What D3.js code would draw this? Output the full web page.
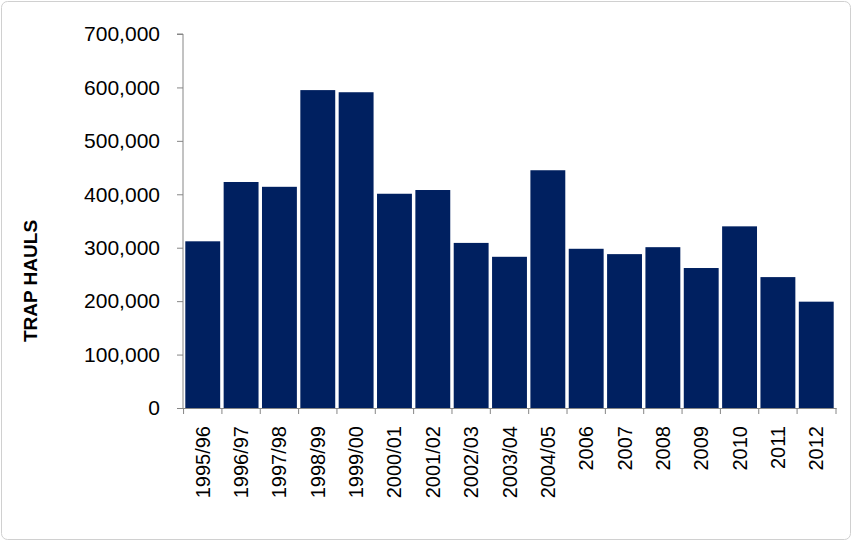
<!DOCTYPE html>
<html><head><meta charset="utf-8">
<script src="https://cdn.jsdelivr.net/npm/d3@7"></script>
<style>body{margin:0;background:#fff}</style>
</head><body>
<script>
const seasons = ["1995/96","1996/97","1997/98","1998/99","1999/00","2000/01","2001/02","2002/03","2003/04","2004/05","2006","2007","2008","2009","2010","2011","2012"];
const hauls = [312000,423000,414000,595000,591000,401000,408000,309000,283000,445000,298000,288000,301000,262000,340000,245000,199000];
const yTicks = [0,100000,200000,300000,400000,500000,600000,700000];

const W = 852, H = 541;
const m = {left:183, right:16, top:34, bottom:133};
const svg = d3.select("body").append("svg").attr("width", W).attr("height", H)
  .style("font-family", "'Liberation Sans', sans-serif");

svg.append("rect").attr("x",1.5).attr("y",1.5).attr("width",W-3).attr("height",H-3)
  .attr("rx",6).attr("fill","#fff").attr("stroke","#d0d0d0");

const x = d3.scaleBand().domain(seasons).range([m.left, W - m.right]).paddingInner(0.09).paddingOuter(0.06);
const y = d3.scaleLinear().domain([0,700000]).range([H - m.bottom, m.top]);

svg.append("g").selectAll("rect").data(hauls).join("rect")
  .attr("x", (d,i) => x(seasons[i])).attr("width", x.bandwidth())
  .attr("y", d => y(d)).attr("height", d => y(0) - y(d))
  .attr("fill", "#002060");

const ya = svg.append("g").attr("transform", `translate(${m.left},0)`)
  .call(d3.axisLeft(y).tickValues(yTicks).tickSize(6).tickFormat(d3.format(",")));
ya.selectAll("text").attr("font-size", 21).attr("fill", "#000").attr("dx", -14);
ya.selectAll("line,path").attr("stroke", "#868686");
ya.select(".domain").attr("d", `M-6,${y(700000)}H0V${y(0)}`);

const xa = svg.append("g").attr("transform", `translate(0,${y(0)})`)
  .call(d3.axisBottom(x).tickSize(0).tickSizeOuter(0));
xa.select(".domain").attr("stroke", "#868686");
xa.selectAll(".tick line").remove();
const edges = seasons.map(s => x(s) - x.step()*x.paddingInner()/2).concat([W - m.right]);
xa.selectAll(".edge").data(edges).join("line").attr("class","edge")
  .attr("x1", d=>d).attr("x2", d=>d).attr("y1",0).attr("y2",6).attr("stroke","#868686");
xa.selectAll(".tick text").attr("font-size", 20).attr("fill", "#000")
  .attr("transform", "rotate(-90)").attr("text-anchor", "end")
  .attr("x", -18).attr("y", 0).attr("dy", "0.35em");

svg.append("text").attr("transform", `translate(37,${(m.top + H - m.bottom)/2 + 60}) rotate(-90)`)
  .attr("text-anchor","middle").attr("font-size", 19).attr("font-weight","bold").text("TRAP HAULS");
</script>
</body></html>
